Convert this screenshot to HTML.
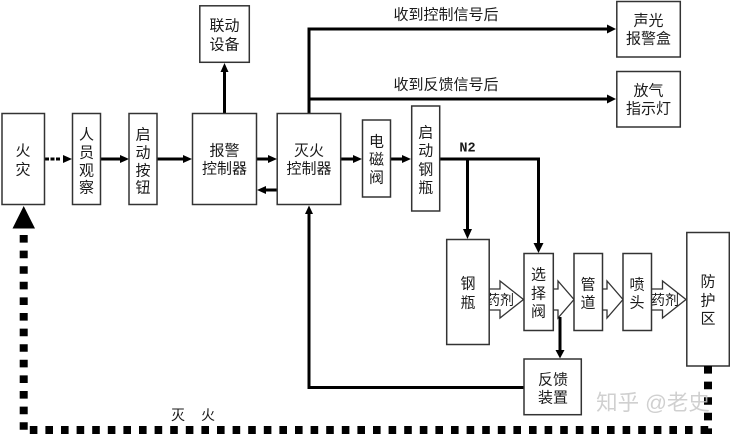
<!DOCTYPE html>
<html><head><meta charset="utf-8"><style>
html,body{margin:0;padding:0;background:#fff}
svg{display:block}
text{font-family:"Liberation Sans","Noto Sans CJK SC",sans-serif;font-size:15px;fill:#1a1a1a;text-anchor:middle;dominant-baseline:central}
.b{fill:#fff;stroke:#333;stroke-width:1.5}
.l{fill:none;stroke:#000;stroke-width:3}
.h{fill:#fff;stroke:#333;stroke-width:1.3}
</style></head><body>
<svg width="730" height="434" viewBox="0 0 730 434" xmlns="http://www.w3.org/2000/svg">
<rect width="730" height="434" fill="#fff"/>

<!-- hollow arrows -->
<path class="h" d="M489 289H500V281L523.500 299.500L500 318V310H489Z"/>
<path class="h" d="M553 289H558V281L574 299.500L558 318V310H553Z"/>
<path class="h" d="M602 289H607V281L623 299.500L607 318V310H602Z"/>
<path class="h" d="M651 289H662.500V281L686 299.500L662.500 318V310H651Z"/>
<text x="500" y="300" style="font-size:14px">药剂</text>
<text x="665" y="300" style="font-size:14px">药剂</text>

<!-- lines -->
<path class="l" d="M101 159H122M157 159H185M256 159H270M341 159H355M391 159H404"/>
<path class="l" d="M277 190H263"/>
<path class="l" d="M224.500 113V70"/>
<path class="l" d="M309 113V29H609M309 99H609"/>
<path class="l" d="M440 159H538.500V246M467.500 159V232"/>
<path class="l" d="M560 317V350"/>
<path class="l" d="M524 387.500H309V214"/>
<path d="M45 159H60" fill="none" stroke="#000" stroke-width="3" stroke-dasharray="4 1.500 4 1.500 4"/>

<!-- arrowheads -->
<g fill="#000">
<path d="M63 155L72 159L63 163Z"/>
<path d="M120 155L129 159L120 163Z"/>
<path d="M183 155L192 159L183 163Z"/>
<path d="M268 155L277 159L268 163Z"/>
<path d="M353 155L362 159L353 163Z"/>
<path d="M402 155L411 159L402 163Z"/>
<path d="M266 186L257 190L266 194Z"/>
<path d="M220.500 72L224.500 63L228.500 72Z"/>
<path d="M607 24.500L616 29L607 33.500Z"/>
<path d="M607 94.500L616 99L607 103.500Z"/>
<path d="M463 229L467.500 239L472 229Z"/>
<path d="M533.500 243L538.500 253L543.500 243Z"/>
<path d="M555.500 350L560 358.500L564.500 350Z"/>
<path d="M305 214L309 205.500L313 214Z"/>
<path d="M23.700 206L35 228.500H12.500Z"/>
</g>

<!-- boxes -->
<rect class="b" x="2" y="113.500" width="42.500" height="91"/>
<rect class="b" x="72.500" y="113.500" width="28" height="91"/>
<rect class="b" x="129" y="113.500" width="28" height="91"/>
<rect class="b" x="192.500" y="113.500" width="64" height="91"/>
<rect class="b" x="277.200" y="113.500" width="63.500" height="91"/>
<rect class="b" x="362.500" y="120" width="28" height="77"/>
<rect class="b" x="411.700" y="106" width="28" height="105"/>
<rect class="b" x="446.700" y="239.500" width="42.500" height="105"/>
<rect class="b" x="524" y="253.500" width="29.300" height="77"/>
<rect class="b" x="574" y="253.500" width="28.500" height="77"/>
<rect class="b" x="623" y="253.500" width="28.500" height="77"/>
<rect class="b" x="686.800" y="232.500" width="42.500" height="133.500"/>
<rect class="b" x="524" y="359" width="57.300" height="55.700"/>
<rect class="b" x="199.800" y="5.800" width="49.500" height="56.500"/>
<rect class="b" x="616.800" y="1.500" width="63.500" height="55.500"/>
<rect class="b" x="616.800" y="71.500" width="63.500" height="55.500"/>

<!-- box text -->
<text x="23" y="151">火</text><text x="23" y="170">灾</text>
<text x="86.500" y="135">人</text><text x="86.500" y="153">员</text><text x="86.500" y="171">观</text><text x="86.500" y="188">察</text>
<text x="143" y="135">启</text><text x="143" y="153">动</text><text x="143" y="171">按</text><text x="143" y="188">钮</text>
<text x="224.500" y="151">报警</text><text x="224.500" y="169">控制器</text>
<text x="309" y="151">灭火</text><text x="309" y="169">控制器</text>
<text x="376.500" y="142">电</text><text x="376.500" y="160">磁</text><text x="376.500" y="178">阀</text>
<text x="425.700" y="133">启</text><text x="425.700" y="151">动</text><text x="425.700" y="170">钢</text><text x="425.700" y="188">瓶</text>
<text x="467.500" y="149" style="font-size:13.500px;font-weight:bold;font-family:'Liberation Mono',monospace;letter-spacing:0">N2</text>
<text x="468" y="284">钢</text><text x="468" y="303">瓶</text>
<text x="538.500" y="275">选</text><text x="538.500" y="294">择</text><text x="538.500" y="312">阀</text>
<text x="588" y="285">管</text><text x="588" y="303">道</text>
<text x="637" y="285">喷</text><text x="637" y="303">头</text>
<text x="708" y="282">防</text><text x="708" y="301">护</text><text x="708" y="319">区</text>
<text x="553" y="380">反馈</text><text x="553" y="398">装置</text>
<text x="224.500" y="26">联动</text><text x="224.500" y="45">设备</text>
<text x="648.500" y="21">声光</text><text x="648.500" y="39">报警盒</text>
<text x="648.500" y="91">放气</text><text x="648.500" y="109">指示灯</text>
<text x="446" y="15">收到控制信号后</text>
<text x="446" y="85">收到反馈信号后</text>
<text x="178" y="415" style="font-size:14px">灭</text>
<text x="208" y="415" style="font-size:14px">火</text>

<!-- dotted return path -->
<path d="M23.700 235V431" fill="none" stroke="#000" stroke-width="8" stroke-dasharray="7.600 8"/>
<path d="M29.800 430H712" fill="none" stroke="#000" stroke-width="8" stroke-dasharray="7.600 8"/>
<path d="M708 366V434" fill="none" stroke="#000" stroke-width="8" stroke-dasharray="7.600 8"/>

<text x="653" y="403" style="font-size:21.500px;fill:#c8c8c8;opacity:.85">知乎 @老史</text>
</svg>
</body></html>
